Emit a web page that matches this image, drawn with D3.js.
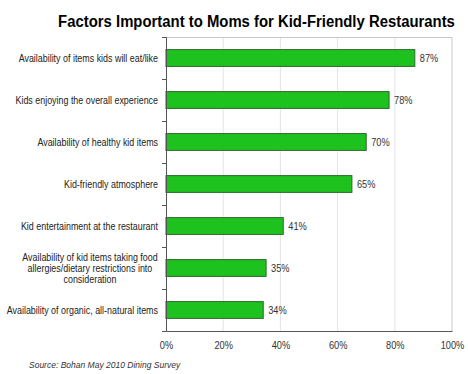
<!DOCTYPE html>
<html>
<head>
<meta charset="utf-8">
<script src="https://cdn.jsdelivr.net/npm/d3@7"></script>
<style>
  body { margin: 0; background: #fff; }
  text { font-family: "Liberation Sans", Arial, sans-serif; }
</style>
</head>
<body>
<script>
// survey answers, top to bottom
const categories = [
    "Availability of items kids will eat/like",
    "Kids enjoying the overall experience",
    "Availability of healthy kid items",
    "Kid-friendly atmosphere",
    "Kid entertainment at the restaurant",
    "Availability of kid items taking food\nallergies/dietary restrictions into\nconsideration",
    "Availability of organic, all-natural items"
];
const values = [87, 78, 70, 65, 41, 35, 34];
const xTicks = [0, 20, 40, 60, 80, 100];

const W = 468, H = 374;
const pLeft = 166, pRight = 452, pTop = 37, pBottom = 331;
const squeeze = 0.84; // narrow font look
const labelSqueeze = 0.81;

const svg = d3.select("body").append("svg")
    .attr("width", W).attr("height", H);

const x = d3.scaleLinear().domain([0, 100]).range([pLeft, pRight]);
const y = d3.scaleBand().domain(categories).range([pTop, pBottom])
    .paddingInner(0.6).paddingOuter(0.3);

// title, squeezed to the reference width
const titleG = svg.append("g");
const title = titleG.append("text")
    .attr("text-anchor", "middle")
    .attr("font-size", 17).attr("font-weight", "bold")
    .text("Factors Important to Moms for Kid-Friendly Restaurants");
const tw = title.node().getComputedTextLength();
titleG.attr("transform", `translate(256.5,27) scale(${397 / tw},1)`);

// grid + frame
svg.append("g").selectAll("line")
    .data(xTicks.slice(1))
    .join("line")
    .attr("x1", d => x(d)).attr("x2", d => x(d))
    .attr("y1", pTop).attr("y2", pBottom)
    .attr("stroke", d => d === 100 ? "#c8c8c8" : "#e4e4e4");
svg.append("line")
    .attr("x1", pLeft).attr("x2", pRight).attr("y1", pTop + 0.5).attr("y2", pTop + 0.5)
    .attr("stroke", "#c8c8c8");

// bars
svg.append("g").selectAll("rect")
    .data(values)
    .join("rect")
    .attr("x", x(0))
    .attr("y", (d, i) => y(categories[i]))
    .attr("width", d => x(d) - x(0))
    .attr("height", y.bandwidth())
    .attr("fill", "#1ec21e")
    .attr("stroke", "#2d6a2d").attr("stroke-width", 1);

// value labels
svg.append("g").selectAll("g")
    .data(values)
    .join("g")
    .attr("transform", (d, i) => `translate(${x(d) + 5},${y(categories[i]) + y.bandwidth() / 2 + 4}) scale(${squeeze},1)`)
    .append("text")
    .attr("font-size", 11).attr("fill", "#333")
    .text(d => d + "%");

// y axis with ticks between categories
const edge = d3.scaleLinear().domain([0, categories.length]).range([pTop, pBottom]);
svg.append("g")
    .attr("transform", `translate(${pLeft},0)`)
    .call(d3.axisLeft(edge).tickValues(d3.range(categories.length + 1))
        .tickSize(4).tickFormat(""))
    .call(g => g.select(".domain").attr("stroke", "#555"))
    .call(g => g.selectAll(".tick line").attr("stroke", "#555"));

// x axis
svg.append("g")
    .attr("transform", `translate(0,${pBottom})`)
    .call(d3.axisBottom(x).tickValues(xTicks).tickSize(0).tickPadding(0)
        .tickFormat(d => d + "%"))
    .call(g => g.select(".domain").attr("stroke", "#555"))
    .call(g => g.selectAll(".tick text")
        .attr("font-family", "Liberation Sans, Arial, sans-serif")
        .attr("font-size", 11).attr("fill", "#333")
        .attr("dy", 0).attr("y", 18)
        .attr("transform", `scale(${squeeze},1)`)
        .attr("x", 0));

// category labels
const labels = svg.append("g").selectAll("g")
    .data(categories)
    .join("g")
    .attr("transform", d => `translate(158,${y(d) + y.bandwidth() / 2}) scale(${labelSqueeze},1)`);
labels.each(function (d) {
    const lines = d.split("\n");
    const t = d3.select(this).append("text")
        .attr("font-size", 11).attr("fill", "#222")
        .attr("text-anchor", lines.length > 1 ? "middle" : "end");
    const lh = 11.5;
    lines.forEach((ln, k) => {
        t.append("tspan")
            .attr("x", lines.length > 1 ? -84 : 0)
            .attr("y", (k - (lines.length - 1) / 2) * lh + 4)
            .text(ln);
    });
});

// source note
svg.append("text")
    .attr("x", 29).attr("y", 368)
    .attr("font-size", 8.5).attr("font-style", "italic").attr("fill", "#333")
    .text("Source: Bohan May 2010 Dining Survey");
</script>
</body>
</html>
